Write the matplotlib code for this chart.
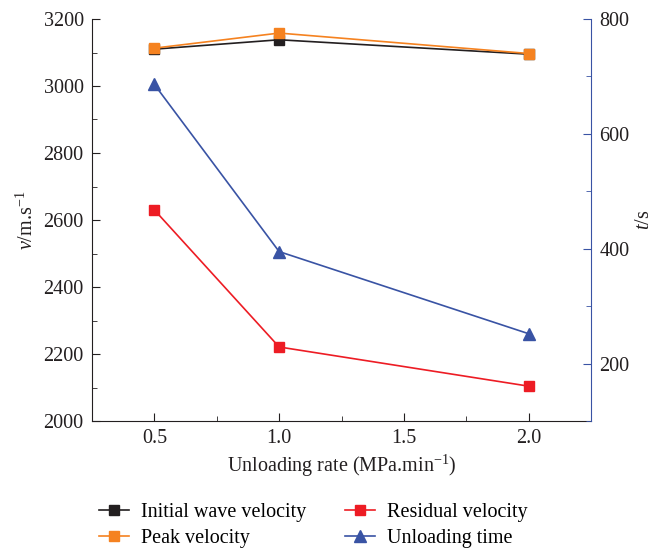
import matplotlib
matplotlib.use("Agg")
import matplotlib.pyplot as plt
from matplotlib.ticker import MultipleLocator
from matplotlib.lines import Line2D

plt.rcParams['font.family'] = ['Liberation Serif', 'DejaVu Serif']
plt.rcParams['mathtext.fontset'] = 'custom'
plt.rcParams['mathtext.rm'] = 'Liberation Serif'
plt.rcParams['mathtext.it'] = 'Liberation Serif:italic'

rates = [0.5, 1.0, 2.0]
initial_velocity = [3110, 3138, 3095]
peak_velocity = [3113, 3158, 3097]
residual_velocity = [2630, 2221, 2104]
unloading_time = [686, 395, 252]

BLACK = '#231f20'
ORANGE = '#f58220'
RED = '#ed1c24'
BLUE = '#3953a4'
FS = 14.5

fig = plt.figure(figsize=(6.54, 5.5), dpi=100)
ax = fig.add_axes([92/654, 1-421/550, (591-92)/654, (421-19)/550])
ax2 = ax.twinx()

ax.plot(rates, residual_velocity, color=RED, marker='s', ms=7, lw=1.2, label='Residual velocity')
ax.plot(rates, initial_velocity, color=BLACK, marker='s', ms=7, lw=1.2, label='Initial wave velocity')
ax.plot(rates, peak_velocity, color=ORANGE, marker='s', ms=7, lw=1.2, label='Peak velocity')
ax2.plot(rates, unloading_time, color=BLUE, marker='^', ms=9, lw=1.2, label='Unloading time')

ax.set_xlim(0.25, 2.25)
ax.set_ylim(2000, 3200)
ax2.set_ylim(100, 800)

ax.xaxis.set_major_locator(MultipleLocator(0.5))
ax.xaxis.set_minor_locator(MultipleLocator(0.25))
ax.yaxis.set_major_locator(MultipleLocator(200))
ax.yaxis.set_minor_locator(MultipleLocator(100))
ax2.yaxis.set_major_locator(MultipleLocator(200))
ax2.yaxis.set_minor_locator(MultipleLocator(100))
ax.xaxis.set_major_formatter(matplotlib.ticker.FormatStrFormatter('%.1f'))

for a in (ax, ax2):
    a.spines['top'].set_visible(False)
ax.spines['right'].set_visible(False)
ax2.spines['left'].set_visible(False)
ax2.spines['bottom'].set_visible(False)
ax2.spines['right'].set_color(BLUE)
ax.spines['left'].set_color(BLACK)
ax.spines['bottom'].set_color(BLACK)

ax.tick_params(axis='both', which='both', direction='in', labelsize=FS, colors=BLACK, top=False, right=False)
ax.tick_params(which='major', length=6)
ax.tick_params(which='minor', length=3.5)
ax.tick_params(axis='x', pad=6)
ax.tick_params(axis='y', pad=6)
ax2.tick_params(axis='y', which='both', direction='in', labelsize=FS, color=BLUE, labelcolor=BLACK)
ax2.tick_params(which='major', length=6, pad=6)
ax2.tick_params(which='minor', length=3.5)

ax.set_xlabel('Unloading rate (MPa.min$^{-1}$)', fontsize=FS, color=BLACK, labelpad=3)
ax.set_ylabel('$v$/m.s$^{-1}$', fontsize=FS, color=BLACK, labelpad=4)
ax2.set_ylabel('$t$/s', fontsize=FS, color=BLACK, labelpad=4)

handles = [
    Line2D([], [], color=BLACK, marker='s', ms=7, lw=1.2),
    Line2D([], [], color=ORANGE, marker='s', ms=7, lw=1.2),
    Line2D([], [], color=RED, marker='s', ms=7, lw=1.2),
    Line2D([], [], color=BLUE, marker='^', ms=9, lw=1.2),
]
labels = ['Initial wave velocity', 'Peak velocity', 'Residual velocity', 'Unloading time']
fig.legend(handles, labels, loc='lower left', bbox_to_anchor=(88/654, -0.016), ncol=2,
           frameon=False, fontsize=FS, handlelength=1.5, columnspacing=1.9,
           handletextpad=0.6, labelspacing=0.35, borderaxespad=0.15)

fig.savefig('out.png', dpi=100)
